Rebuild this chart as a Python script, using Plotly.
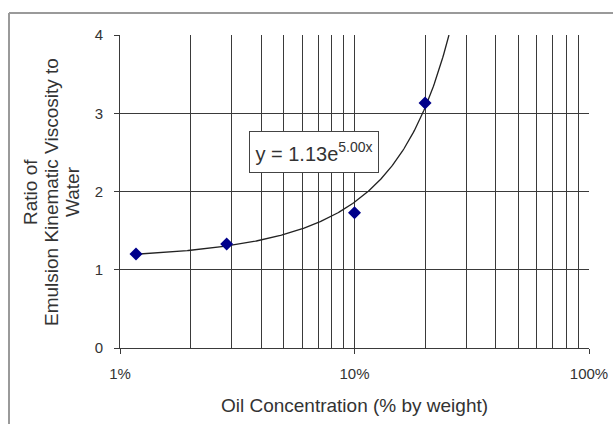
import numpy as np
import plotly.graph_objects as go

# Data (oil concentration in %, viscosity ratio)
oil_pct = [1.17, 2.85, 10.0, 20.0]
ratio = [1.20, 1.33, 1.73, 3.13]

# Trendline coefficients shown on the chart: y = a * exp(b * x), x as fraction
fit_a = 1.13
fit_b = 5.00
trend_start_pct = 1.17
trend_end_pct = 100 * np.log(4.0 / fit_a) / fit_b

major_ticks = [1, 10, 100]
major_labels = ["1%", "10%", "100%"]
minor_ticks = [2, 3, 4, 5, 6, 7, 8, 9, 20, 30, 40, 50, 60, 70, 80, 90]
y_ticks = [0, 1, 2, 3, 4]
y_title_lines = ["Ratio of", "Emulsion Kinematic Viscosity to", "Water"]

trend_x = np.logspace(np.log10(trend_start_pct), np.log10(trend_end_pct), 300)
trend_y = fit_a * np.exp(fit_b * trend_x / 100.0)

fig = go.Figure()
fig.add_trace(go.Scatter(x=trend_x, y=trend_y, mode="lines",
                         line=dict(color="#222222", width=1.3),
                         showlegend=False, hoverinfo="skip"))
fig.add_trace(go.Scatter(x=oil_pct, y=ratio, mode="markers",
                         marker=dict(symbol="diamond", size=10, color="#00008B"),
                         showlegend=False))

grid_col = "#3a3a3a"
font_col = "#333333"
W, H = 613, 424
L, R, T, B = 120, 613 - 589, 35, 424 - 348
pw, ph = W - L - R, H - T - B


def px(sx):
    return (sx - L) / pw


def py(sy):
    return (H - B - sy) / ph


fig.update_layout(
    width=W, height=H,
    margin=dict(l=L, r=R, t=T, b=B, autoexpand=False),
    paper_bgcolor="white", plot_bgcolor="white",
    font=dict(family="Liberation Sans, Arial", size=15, color=font_col),
    xaxis=dict(type="log", range=[0, 2], tickmode="array",
               tickvals=major_ticks, ticktext=major_labels,
               showgrid=True, gridcolor=grid_col, gridwidth=1,
               ticks="outside", ticklen=5, tickcolor=grid_col,
               ticklabelstandoff=7,
               showline=True, linecolor=grid_col, linewidth=1, mirror=False,
               zeroline=False,
               minor=dict(tickmode="array", tickvals=minor_ticks,
                          showgrid=True, gridcolor=grid_col, gridwidth=1,
                          ticks=""),
               title=dict(text="Oil Concentration (% by weight)",
                          font=dict(size=19, color=font_col), standoff=17)),
    yaxis=dict(range=[0, 4], tickmode="array", tickvals=y_ticks,
               showgrid=True, gridcolor=grid_col, gridwidth=1,
               ticks="outside", ticklen=5, tickcolor=grid_col,
               ticklabelstandoff=8,
               showline=True, linecolor=grid_col, linewidth=1,
               zeroline=False),
)

# y-axis title: three rotated lines
for line_text, sx in zip(y_title_lines, [30, 51, 72]):
    fig.add_annotation(text=line_text, xref="paper", yref="paper",
                       x=px(sx), y=py(192),
                       xanchor="center", yanchor="middle", textangle=-90,
                       showarrow=False, font=dict(size=19, color=font_col))

# equation box
fig.add_annotation(text="y = 1.13e<sup>5.00x</sup>",
                   xref="paper", yref="paper",
                   x=px(314), y=py(152),
                   xanchor="center", yanchor="middle", showarrow=False,
                   font=dict(size=20, color=font_col),
                   width=124, height=36, align="center",
                   bgcolor="white", bordercolor="#444444", borderwidth=1,
                   borderpad=2)

# outer chart border (left and top edges visible)
border = dict(color="#9a9a9a", width=2)
fig.add_shape(type="line", xref="paper", yref="paper",
              x0=px(9), x1=px(9), y0=py(13), y1=py(440), line=border)
fig.add_shape(type="line", xref="paper", yref="paper",
              x0=px(9), x1=px(640), y0=py(13), y1=py(13), line=border)

fig.write_html("out.html",
               config={"displayModeBar": False},
               post_script="document.body.style.margin='0';"
                           "document.body.style.overflow='hidden';")
